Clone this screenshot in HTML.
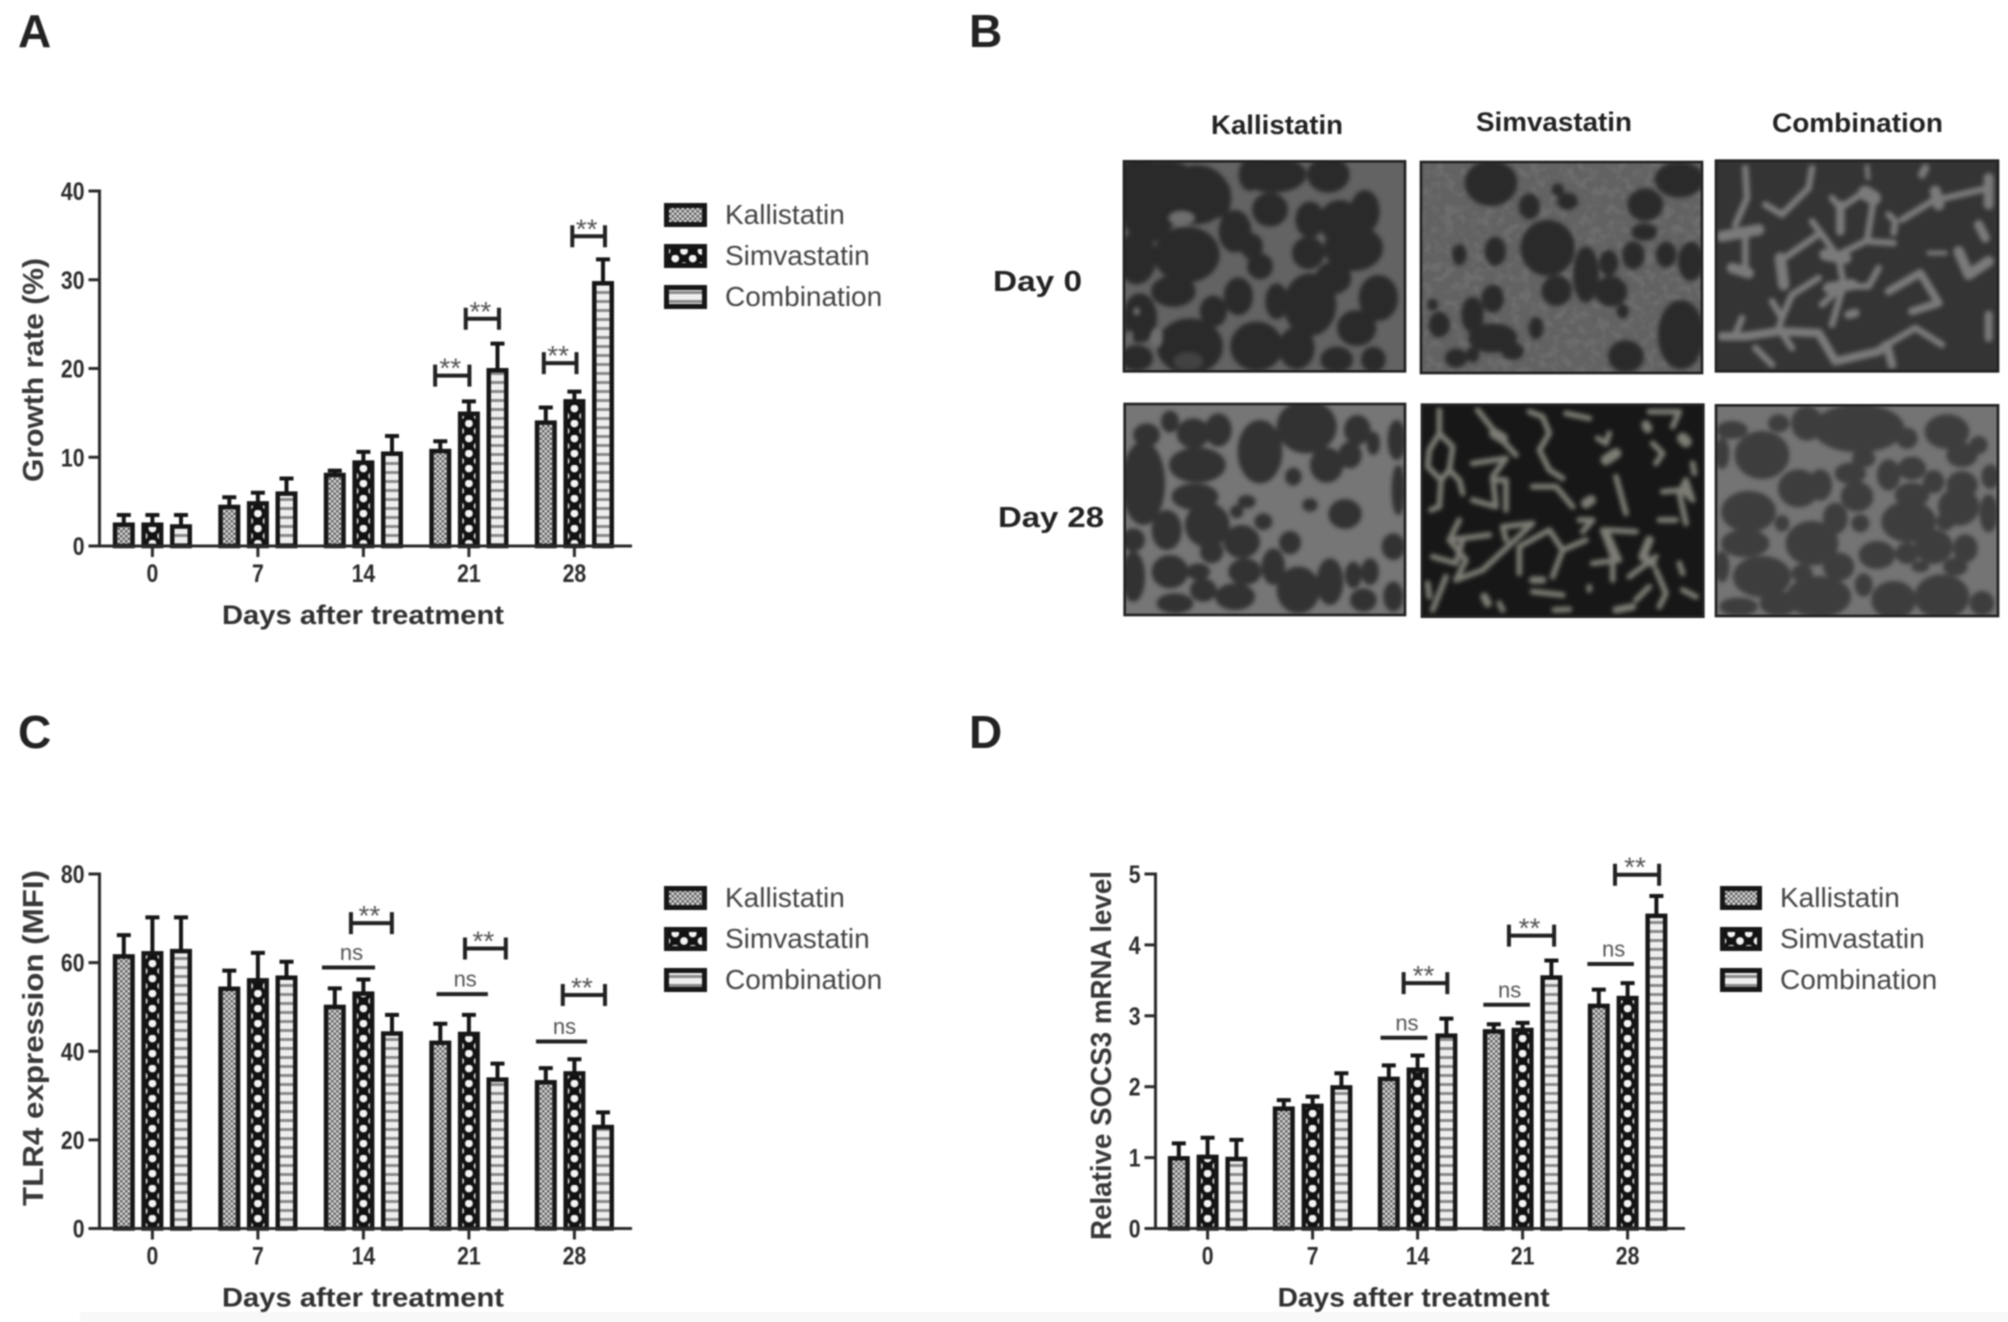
<!DOCTYPE html>
<html lang="en">
<head>
<meta charset="utf-8">
<title>Kallistatin, Simvastatin and Combination treatment results</title>
<style>
html,body{margin:0;padding:0;background:#fff;}
body{width:2008px;height:1322px;overflow:hidden;}
#figure{display:block;width:2008px;height:1322px;filter:blur(0.8px);font-family:"Liberation Sans",Arial,sans-serif;}
.panel-letter{font-size:46px;font-weight:bold;fill:#222;}
.tick{font-size:25px;font-weight:bold;fill:#2c2c2c;}
.axis-title{font-size:27px;font-weight:bold;fill:#303030;}
.axis-title-y{font-size:29px;font-weight:bold;fill:#383838;}
.legend-text{font-size:28px;fill:#444;}
.sig{font-size:28px;fill:#555;}
.ns{font-size:22px;fill:#555;}
.img-label{font-size:27px;font-weight:bold;fill:#222;}
.row-label{font-size:29px;font-weight:bold;fill:#222;}
</style>
</head>
<body>
<svg id="figure" xmlns="http://www.w3.org/2000/svg" width="2008" height="1322" viewBox="0 0 2008 1322">
<defs>
  <pattern id="hatch-kallistatin" patternUnits="userSpaceOnUse" width="5" height="5">
    <rect width="5" height="5" fill="#dcdcdc"/>
    <rect width="2.5" height="2.5" fill="#5f5f5f"/>
    <rect x="2.5" y="2.5" width="2.5" height="2.5" fill="#5f5f5f"/>
  </pattern>
  <pattern id="hatch-simvastatin" patternUnits="userSpaceOnUse" width="17.5" height="15">
    <rect width="17.5" height="15" fill="#111"/>
    <circle cx="8.75" cy="3.5" r="3.9" fill="#f4f4f4"/>
    <circle cx="0" cy="11" r="3.9" fill="#f4f4f4"/>
    <circle cx="17.5" cy="11" r="3.9" fill="#f4f4f4"/>
  </pattern>
  <pattern id="hatch-combination" patternUnits="userSpaceOnUse" width="9" height="9">
    <rect width="9" height="9" fill="#efefef"/>
    <rect y="3" width="9" height="3" fill="#8a8a8a"/>
  </pattern>
  <filter id="soft" x="-5%" y="-5%" width="110%" height="110%"><feGaussianBlur stdDeviation="6"/></filter>
  <filter id="mottle" x="0" y="0" width="100%" height="100%"><feTurbulence type="fractalNoise" baseFrequency="0.035" numOctaves="2" seed="3"/><feColorMatrix type="matrix" values="0 0 0 0 0.15  0 0 0 0 0.15  0 0 0 0 0.15  0 0 0 -4 2.2"/></filter>
  <clipPath id="clip-1"><rect x="12" y="10" width="843" height="630"/></clipPath>
  <clipPath id="clip-2"><rect x="15" y="12" width="843" height="633"/></clipPath>
  <clipPath id="clip-3"><rect x="12" y="8" width="846" height="632"/></clipPath>
  <clipPath id="clip-4"><rect x="14" y="12" width="841" height="633"/></clipPath>
  <clipPath id="clip-5"><rect x="18" y="14" width="844" height="636"/></clipPath>
  <clipPath id="clip-6"><rect x="12" y="16" width="846" height="632"/></clipPath>
</defs>
<rect width="2008" height="1322" fill="#fff"/>
<rect x="80" y="1312" width="1928" height="10" fill="#f8f8f8"/>

<text class="panel-letter" x="18" y="47">A</text>
<text class="panel-letter" x="969" y="47">B</text>
<text class="panel-letter" x="18" y="748">C</text>
<text class="panel-letter" x="969" y="748">D</text>

<!-- Panel B -->
<g>
<text class="img-label" x="1211" y="134" textLength="132" lengthAdjust="spacingAndGlyphs">Kallistatin</text>
<text class="img-label" x="1476" y="131" textLength="156" lengthAdjust="spacingAndGlyphs">Simvastatin</text>
<text class="img-label" x="1772" y="132" textLength="171" lengthAdjust="spacingAndGlyphs">Combination</text>
<text class="row-label" x="993" y="291" textLength="89" lengthAdjust="spacingAndGlyphs">Day 0</text>
<text class="row-label" x="998" y="527" textLength="106" lengthAdjust="spacingAndGlyphs">Day 28</text>

<g transform="translate(1120,158) scale(0.33333)">
 <g clip-path="url(#clip-1)">
  <rect x="0" y="0" width="870" height="660" fill="#636363"/>
  <g filter="url(#soft)" fill="#2b2b2b" stroke="#2b2b2b" stroke-width="18">
   <ellipse cx="85" cy="130" rx="80" ry="115"/><ellipse cx="60" cy="60" rx="60" ry="55"/><ellipse cx="140" cy="45" rx="60" ry="30"/><ellipse cx="230" cy="110" rx="90" ry="80"/><ellipse cx="200" cy="290" rx="90" ry="75"/><ellipse cx="160" cy="400" rx="58" ry="38"/><ellipse cx="60" cy="480" rx="42" ry="65"/><ellipse cx="210" cy="565" rx="90" ry="75"/><ellipse cx="280" cy="460" rx="32" ry="38"/><ellipse cx="345" cy="220" rx="40" ry="55"/><ellipse cx="355" cy="415" rx="35" ry="48"/><ellipse cx="395" cy="265" rx="25" ry="30"/><ellipse cx="420" cy="325" rx="30" ry="30"/><ellipse cx="450" cy="155" rx="45" ry="42"/><ellipse cx="460" cy="50" rx="90" ry="45"/><ellipse cx="625" cy="50" rx="55" ry="45"/><ellipse cx="735" cy="160" rx="35" ry="55"/><ellipse cx="570" cy="185" rx="35" ry="45"/><ellipse cx="660" cy="190" rx="55" ry="55"/><ellipse cx="700" cy="270" rx="80" ry="60"/><ellipse cx="565" cy="285" rx="40" ry="40"/><ellipse cx="640" cy="360" rx="45" ry="40"/><ellipse cx="775" cy="420" rx="50" ry="60"/><ellipse cx="570" cy="440" rx="70" ry="85"/><ellipse cx="470" cy="430" rx="25" ry="45"/><ellipse cx="710" cy="510" rx="50" ry="45"/><ellipse cx="410" cy="565" rx="70" ry="65"/><ellipse cx="530" cy="570" rx="45" ry="55"/><ellipse cx="650" cy="605" rx="40" ry="30"/><ellipse cx="760" cy="605" rx="28" ry="30"/><ellipse cx="300" cy="120" rx="25" ry="50"/><ellipse cx="390" cy="50" rx="25" ry="40"/><ellipse cx="50" cy="300" rx="50" ry="70"/><ellipse cx="50" cy="600" rx="40" ry="30"/>
  </g>
  <g filter="url(#soft)" fill="#6e6e6e"><ellipse cx="185" cy="180" rx="40" ry="22"/><ellipse cx="205" cy="610" rx="45" ry="28" opacity="0.35"/><ellipse cx="110" cy="540" rx="18" ry="30"/><ellipse cx="50" cy="460" rx="10" ry="12"/><ellipse cx="30" cy="535" rx="9" ry="18"/></g>
 </g>
 <rect x="12" y="10" width="843" height="630" fill="none" stroke="#222" stroke-width="8"/>
</g>

<g transform="translate(1416,158) scale(0.33333)">
 <g clip-path="url(#clip-2)">
  <rect x="0" y="0" width="870" height="660" fill="#626262"/>
  <rect x="0" y="0" width="870" height="660" filter="url(#mottle)"/>
  <g filter="url(#soft)" fill="#2a2a2a" stroke="#2a2a2a" stroke-width="8">
   <ellipse cx="225" cy="75" rx="75" ry="65"/><ellipse cx="340" cy="145" rx="28" ry="35"/><ellipse cx="425" cy="95" rx="15" ry="15"/><ellipse cx="455" cy="130" rx="28" ry="22"/><ellipse cx="688" cy="140" rx="50" ry="45"/><ellipse cx="685" cy="222" rx="35" ry="22"/><ellipse cx="790" cy="65" rx="70" ry="50"/><ellipse cx="395" cy="270" rx="78" ry="80"/><ellipse cx="238" cy="280" rx="28" ry="40"/><ellipse cx="130" cy="290" rx="18" ry="28"/><ellipse cx="510" cy="350" rx="35" ry="80"/><ellipse cx="578" cy="315" rx="25" ry="35"/><ellipse cx="652" cy="292" rx="30" ry="38"/><ellipse cx="750" cy="290" rx="27" ry="35"/><ellipse cx="825" cy="310" rx="35" ry="55"/><ellipse cx="422" cy="398" rx="42" ry="42"/><ellipse cx="585" cy="400" rx="45" ry="42"/><ellipse cx="230" cy="422" rx="30" ry="38"/><ellipse cx="170" cy="470" rx="30" ry="50"/><ellipse cx="70" cy="500" rx="28" ry="35"/><ellipse cx="795" cy="530" rx="65" ry="100"/><ellipse cx="630" cy="595" rx="50" ry="45"/><ellipse cx="230" cy="540" rx="70" ry="40"/><ellipse cx="120" cy="600" rx="30" ry="25"/><ellipse cx="360" cy="510" rx="18" ry="30"/><ellipse cx="620" cy="460" rx="15" ry="18"/><ellipse cx="290" cy="580" rx="30" ry="22"/><ellipse cx="170" cy="590" rx="16" ry="20"/><ellipse cx="50" cy="440" rx="12" ry="14"/>
  </g>
 </g>
 <rect x="15" y="12" width="843" height="633" fill="none" stroke="#222" stroke-width="8"/>
</g>

<g transform="translate(1712,158) scale(0.33333)">
 <g clip-path="url(#clip-3)">
  <rect x="0" y="0" width="870" height="660" fill="#343434"/>
  <g filter="url(#soft)" fill="none" stroke="#7a7a7a" stroke-width="20" stroke-linejoin="round" stroke-linecap="round">
   <path stroke-width="34" d="M30 235 L140 215"/><path d="M100 30 L105 120 L70 200"/><path d="M100 230 L100 350"/><path stroke-width="32" d="M60 330 L110 345"/><path d="M160 140 L210 170 L290 90 L300 30"/><path stroke-width="34" d="M205 300 L215 380"/><path d="M325 225 L225 295"/><path d="M300 190 L330 230 L380 300 L395 380 L360 500"/><path stroke-width="26" d="M385 140 L385 220"/><path d="M360 120 L385 150 L460 100 L485 120 L465 250 L545 255"/><path stroke-width="44" d="M460 105 L485 120"/><path d="M460 250 L380 290"/><path stroke-width="36" d="M340 290 L400 300"/><path stroke-width="34" d="M350 390 L420 380"/><path d="M420 385 L470 385 L500 330"/><path d="M395 380 L330 440"/><path d="M320 360 L240 410 L210 480 L200 510 L240 570"/><path d="M180 430 L210 480"/><path stroke-width="26" d="M30 535 L100 535 L200 520 L320 525 L370 610 L500 580 L525 560 L540 620"/><path d="M90 480 L70 530"/><path d="M130 570 L180 620"/><path d="M525 560 L610 510 L690 560"/><path stroke-width="24" d="M600 460 L680 435 L625 345 L530 400"/><path stroke-width="26" d="M430 465 L410 470"/><path d="M530 170 L550 190 L545 225"/><path d="M570 185 L660 130 L700 120 L830 90"/><path stroke-width="34" d="M670 100 L680 140"/><path stroke-width="30" d="M830 60 L830 140"/><path stroke-width="28" d="M800 200 L820 240"/><path stroke-width="32" d="M740 280 L770 350 L830 310"/><path stroke-width="24" d="M830 470 L830 540"/><path stroke-width="24" d="M640 30 L630 50"/><path stroke-width="14" d="M465 25 L468 60"/><path stroke-width="14" d="M650 285 L700 285"/>
  </g>
 </g>
 <rect x="12" y="8" width="846" height="632" fill="none" stroke="#222" stroke-width="8"/>
</g>

<g transform="translate(1120,400) scale(0.33333)">
 <g clip-path="url(#clip-4)">
  <rect x="0" y="0" width="870" height="660" fill="#767676"/>
  <g filter="url(#soft)" fill="#323232" stroke="#323232" stroke-width="10">
   <ellipse cx="150" cy="65" rx="22" ry="28"/><ellipse cx="80" cy="105" rx="35" ry="30"/><ellipse cx="220" cy="100" rx="45" ry="40"/><ellipse cx="295" cy="90" rx="35" ry="45"/><ellipse cx="420" cy="155" rx="62" ry="90"/><ellipse cx="560" cy="80" rx="85" ry="75"/><ellipse cx="712" cy="90" rx="35" ry="40"/><ellipse cx="760" cy="130" rx="15" ry="30"/><ellipse cx="830" cy="120" rx="22" ry="55"/><ellipse cx="620" cy="195" rx="45" ry="48"/><ellipse cx="690" cy="165" rx="30" ry="35"/><ellipse cx="232" cy="195" rx="80" ry="48"/><ellipse cx="70" cy="250" rx="60" ry="120"/><ellipse cx="225" cy="290" rx="65" ry="35"/><ellipse cx="520" cy="230" rx="20" ry="22"/><ellipse cx="380" cy="305" rx="22" ry="15"/><ellipse cx="350" cy="335" rx="15" ry="15"/><ellipse cx="570" cy="315" rx="18" ry="15"/><ellipse cx="675" cy="342" rx="45" ry="40"/><ellipse cx="262" cy="375" rx="62" ry="62"/><ellipse cx="140" cy="390" rx="40" ry="55"/><ellipse cx="430" cy="365" rx="22" ry="20"/><ellipse cx="365" cy="425" rx="50" ry="45"/><ellipse cx="510" cy="428" rx="28" ry="30"/><ellipse cx="275" cy="455" rx="30" ry="30"/><ellipse cx="460" cy="500" rx="30" ry="50"/><ellipse cx="375" cy="515" rx="45" ry="35"/><ellipse cx="150" cy="515" rx="50" ry="45"/><ellipse cx="235" cy="515" rx="30" ry="20"/><ellipse cx="250" cy="570" rx="35" ry="30"/><ellipse cx="630" cy="545" rx="35" ry="65"/><ellipse cx="700" cy="525" rx="20" ry="35"/><ellipse cx="750" cy="515" rx="22" ry="35"/><ellipse cx="535" cy="570" rx="60" ry="65"/><ellipse cx="345" cy="590" rx="55" ry="35"/><ellipse cx="730" cy="600" rx="35" ry="30"/><ellipse cx="165" cy="610" rx="50" ry="25"/><ellipse cx="40" cy="530" rx="30" ry="70"/><ellipse cx="40" cy="420" rx="30" ry="30"/><ellipse cx="820" cy="440" rx="30" ry="35"/><ellipse cx="835" cy="270" rx="15" ry="70"/><ellipse cx="820" cy="590" rx="25" ry="40"/>
  </g>
 </g>
 <rect x="14" y="12" width="841" height="633" fill="none" stroke="#222" stroke-width="8"/>
</g>

<g transform="translate(1416,400) scale(0.33333)">
 <g clip-path="url(#clip-5)">
  <rect x="0" y="0" width="870" height="660" fill="#171717"/>
  <g filter="url(#soft)" fill="none" stroke="#7d7d75" stroke-width="17" stroke-linejoin="round" stroke-linecap="round">
   <path d="M70 30 L70 100 L40 150 L35 200 L75 240 L70 320 L45 330"/><path d="M70 100 L110 140 L100 210 L75 240"/><path d="M100 210 L130 240 L140 280"/><path d="M185 30 L240 100 L300 165"/><path stroke-width="32" d="M235 100 L260 115"/><path d="M170 190 L270 175 L230 230 L240 320 L170 300"/><path d="M230 240 L270 240 L270 330"/><path d="M340 35 L380 50 L400 100 L370 150 L400 210 L440 235"/><path d="M350 260 L420 260 L470 320"/><path stroke-width="30" d="M525 300 L510 310"/><path d="M545 115 L570 130 L580 100"/><path stroke-width="32" d="M570 180 L600 160"/><path d="M600 230 L630 340"/><path d="M450 40 L520 55"/><path d="M710 130 L740 160 L720 190"/><path stroke-width="28" d="M690 75 L695 85"/><path stroke-width="34" d="M800 115 L810 125"/><path d="M700 35 L790 35 L770 80"/><path d="M740 275 L800 270 L830 300 L810 240 L790 280 L810 370"/><path d="M730 360 L780 360"/><path d="M490 360 L530 360 L500 395"/><path d="M130 360 L100 420 L150 480 L120 540 L200 510 L350 370 L260 380 L270 420"/><path d="M100 420 L220 405"/><path d="M50 470 L120 490 L140 420"/><path d="M310 520 L310 440 L400 390 L440 450 L410 530"/><path d="M440 450 L510 420"/><path d="M560 390 L590 470 L590 540"/><path d="M530 490 L610 480 L570 390 L660 395"/><path d="M640 530 L720 470"/><path stroke-width="26" d="M700 420 L680 470 L710 490"/><path d="M720 510 L750 580 L730 620"/><path d="M660 600 L700 560"/><path d="M790 490 L800 520"/><path d="M90 530 L50 630"/><path d="M35 550 L40 590"/><path stroke-width="22" d="M350 540 L380 540"/><path d="M350 575 L440 585"/><path stroke-width="24" d="M205 590 L215 610"/><path d="M250 610 L260 630"/><path d="M415 630 L460 628"/><path stroke-width="22" d="M600 630 L650 620"/><path d="M520 560 L520 570"/><path d="M800 570 L840 590"/><path d="M830 190 L835 220"/>
  </g>
 </g>
 <rect x="18" y="14" width="844" height="636" fill="none" stroke="#222" stroke-width="8"/>
</g>

<g transform="translate(1712,400) scale(0.33333)">
 <g clip-path="url(#clip-6)">
  <rect x="0" y="0" width="870" height="660" fill="#747474"/>
  <g filter="url(#soft)" fill="#3c3c3c" stroke="#3c3c3c" stroke-width="14">
   <ellipse cx="150" cy="165" rx="75" ry="65"/><ellipse cx="60" cy="90" rx="40" ry="20"/><ellipse cx="200" cy="70" rx="25" ry="20"/><ellipse cx="285" cy="70" rx="40" ry="45"/><ellipse cx="440" cy="85" rx="130" ry="65"/><ellipse cx="585" cy="115" rx="25" ry="25"/><ellipse cx="705" cy="95" rx="60" ry="45"/><ellipse cx="750" cy="165" rx="40" ry="30"/><ellipse cx="800" cy="135" rx="20" ry="20"/><ellipse cx="455" cy="175" rx="28" ry="20"/><ellipse cx="415" cy="220" rx="40" ry="25"/><ellipse cx="530" cy="225" rx="28" ry="40"/><ellipse cx="600" cy="205" rx="35" ry="28"/><ellipse cx="665" cy="245" rx="25" ry="28"/><ellipse cx="750" cy="255" rx="40" ry="35"/><ellipse cx="260" cy="265" rx="55" ry="50"/><ellipse cx="325" cy="255" rx="28" ry="40"/><ellipse cx="435" cy="290" rx="42" ry="38"/><ellipse cx="600" cy="285" rx="45" ry="30"/><ellipse cx="740" cy="320" rx="55" ry="50"/><ellipse cx="110" cy="335" rx="75" ry="55"/><ellipse cx="590" cy="365" rx="75" ry="55"/><ellipse cx="830" cy="340" rx="20" ry="50"/><ellipse cx="210" cy="370" rx="15" ry="18"/><ellipse cx="370" cy="355" rx="30" ry="40"/><ellipse cx="445" cy="370" rx="20" ry="20"/><ellipse cx="700" cy="365" rx="20" ry="20"/><ellipse cx="100" cy="430" rx="65" ry="35"/><ellipse cx="300" cy="430" rx="72" ry="60"/><ellipse cx="665" cy="440" rx="50" ry="45"/><ellipse cx="760" cy="445" rx="30" ry="35"/><ellipse cx="495" cy="465" rx="48" ry="35"/><ellipse cx="585" cy="460" rx="28" ry="25"/><ellipse cx="625" cy="500" rx="20" ry="10"/><ellipse cx="730" cy="500" rx="30" ry="20"/><ellipse cx="150" cy="530" rx="80" ry="55"/><ellipse cx="380" cy="500" rx="40" ry="35"/><ellipse cx="320" cy="590" rx="90" ry="55"/><ellipse cx="455" cy="555" rx="20" ry="28"/><ellipse cx="545" cy="600" rx="60" ry="50"/><ellipse cx="690" cy="590" rx="75" ry="60"/><ellipse cx="80" cy="620" rx="50" ry="20"/><ellipse cx="810" cy="610" rx="30" ry="30"/><ellipse cx="30" cy="160" rx="15" ry="40"/><ellipse cx="835" cy="230" rx="20" ry="30"/><ellipse cx="270" cy="520" rx="25" ry="20"/><ellipse cx="200" cy="610" rx="50" ry="30"/><ellipse cx="30" cy="500" rx="15" ry="40"/>
  </g>
 </g>
 <rect x="12" y="16" width="846" height="632" fill="none" stroke="#222" stroke-width="8"/>
</g>
</g>
</svg>

<script>
// Shared categories and series names
const days = ['0', '7', '14', '21', '28'];
const seriesNames = ['Kallistatin', 'Simvastatin', 'Combination'];

// Panel A values
const growthTicks = [0, 10, 20, 30, 40];
const growthKallistatin = [2.4, 4.4, 8.0, 10.7, 13.9];
const growthSimvastatin = [2.4, 4.8, 9.4, 14.9, 16.3];
const growthCombination = [2.2, 5.9, 10.4, 19.8, 29.6];
const growthKallistatinUpper = [3.5, 5.5, 8.5, 11.8, 15.6];
const growthSimvastatinUpper = [3.5, 6.0, 10.6, 16.3, 17.4];
const growthCombinationUpper = [3.5, 7.6, 12.4, 22.8, 32.3];
const growthBracketStart = [2.68, 2.97, 3.71, 3.98];
const growthBracketEnd = [3.005, 3.285, 4.02, 4.29];
const growthBracketLevel = [19.2, 25.6, 20.6, 34.9];

// Panel C values
const tlr4Ticks = [0, 20, 40, 60, 80];
const tlr4Kallistatin = [61.4, 54.1, 50.0, 41.9, 33.0];
const tlr4Simvastatin = [62.1, 56.0, 53.0, 43.9, 35.0];
const tlr4Combination = [62.6, 56.6, 44.0, 33.6, 22.9];
const tlr4KallistatinUpper = [66.2, 58.2, 54.2, 46.2, 36.2];
const tlr4SimvastatinUpper = [70.2, 62.2, 56.2, 48.2, 38.2];
const tlr4CombinationUpper = [70.2, 60.2, 48.2, 37.2, 26.2];
const tlr4BracketStart = [1.882, 2.963, 3.89];
const tlr4BracketEnd = [2.27, 3.35, 4.29];
const tlr4BracketLevel = [68.9, 63.2, 52.7];
const tlr4NsStart = [1.607, 2.693, 3.636];
const tlr4NsEnd = [2.11, 3.18, 4.12];
const tlr4NsLevel = [58.9, 52.9, 42.2];

// Panel D values
const socs3Ticks = [0, 1, 2, 3, 4, 5];
const socs3Kallistatin = [0.99, 1.69, 2.11, 2.78, 3.14];
const socs3Simvastatin = [1.01, 1.73, 2.24, 2.8, 3.25];
const socs3Combination = [0.98, 1.99, 2.72, 3.54, 4.41];
const socs3KallistatinUpper = [1.2, 1.81, 2.3, 2.88, 3.37];
const socs3SimvastatinUpper = [1.28, 1.86, 2.44, 2.9, 3.46];
const socs3CombinationUpper = [1.25, 2.19, 2.96, 3.78, 4.69];
const socs3BracketStart = [1.867, 2.87, 3.88];
const socs3BracketEnd = [2.283, 3.30, 4.30];
const socs3BracketLevel = [3.46, 4.13, 4.99];
const socs3NsStart = [1.647, 2.626, 3.617];
const socs3NsEnd = [2.093, 3.07, 4.06];
const socs3NsLevel = [2.69, 3.155, 3.73];

const SVG_NS = 'http://www.w3.org/2000/svg';
const root = document.getElementById('figure');
const hatchIds = ['hatch-kallistatin', 'hatch-simvastatin', 'hatch-combination'];

function make(parent, tag, attrs, text) {
  const el = document.createElementNS(SVG_NS, tag);
  for (const k in attrs) el.setAttribute(k, attrs[k]);
  if (text !== undefined) el.textContent = text;
  parent.appendChild(el);
  return el;
}

function drawChart(cfg) {
  const g = make(root, 'g', {});
  
  

  const yScale = v => cfg.baseY - (v / cfg.yMax) * (cfg.baseY - cfg.topY);
  const xScale = i => cfg.firstX + cfg.step * i;
  const offsets = [-1, 0, 1];
  const ink = '#161616';

  cfg.series.forEach((vals, s) => {
    vals.forEach((v, i) => {
      const cx = xScale(i) + offsets[s] * cfg.barGap;
      const err = make(g, 'path', {
        d: 'M' + cx + ' ' + yScale(v) + ' V' + yScale(cfg.upper[s][i]) + ' M' + (cx - 7) + ' ' + yScale(cfg.upper[s][i]) + ' H' + (cx + 7),
        fill: 'none', stroke: ink, 'stroke-width': 4
      });
      
      
      const bar = make(g, 'rect', {
        transform: 'translate(' + (cx - 8.75) + ',0)',
        x: 0, y: yScale(v), width: 17.5, height: cfg.baseY - yScale(v),
        fill: 'url(#' + hatchIds[s] + ')', stroke: ink, 'stroke-width': 4.5
      });
      
      
    });
  });

  const yAxis = make(g, 'line', { x1: cfg.axisX, x2: cfg.axisX, y1: cfg.topY - 1.5, y2: cfg.baseY + 1.5, stroke: '#2a2a2a', 'stroke-width': 3 });
  
  
  const xAxis = make(g, 'line', { x1: cfg.axisX - 11, x2: cfg.axisEnd, y1: cfg.baseY, y2: cfg.baseY, stroke: '#2a2a2a', 'stroke-width': 3 });
  
  

  cfg.ticks.forEach(t => {
    const mark = make(g, 'line', { x1: cfg.axisX - 11, x2: cfg.axisX, y1: yScale(t), y2: yScale(t), stroke: '#2a2a2a', 'stroke-width': 3 });
    
    
    const lab = make(g, 'text', { class: 'tick', x: cfg.axisX - 15, y: yScale(t) + 9, 'text-anchor': 'end', textLength: String(t).length * 11.8, lengthAdjust: 'spacingAndGlyphs' }, String(t));
    
    
  });

  days.forEach((d, i) => {
    const mark = make(g, 'line', { x1: xScale(i), x2: xScale(i), y1: cfg.baseY, y2: cfg.baseY + 11, stroke: '#2a2a2a', 'stroke-width': 3 });
    
    
    const lab = make(g, 'text', { class: 'tick', x: xScale(i), y: cfg.baseY + 36, 'text-anchor': 'middle', textLength: d.length * 11.8, lengthAdjust: 'spacingAndGlyphs' }, d);
    
    
  });

  const xTitle = make(g, 'text', { class: 'axis-title', x: cfg.xTitleX, y: cfg.baseY + 78, textLength: cfg.xTitleLen, lengthAdjust: 'spacingAndGlyphs' }, 'Days after treatment');
  
  
  const yTitle = make(g, 'text', { class: 'axis-title-y', x: cfg.yTitleX, y: cfg.yTitleY, transform: 'rotate(-90 ' + cfg.yTitleX + ' ' + cfg.yTitleY + ')', textLength: cfg.yTitleLen, lengthAdjust: 'spacingAndGlyphs' }, cfg.yTitle);
  
  

  cfg.bracketLevel.forEach((lv, k) => {
    const xa = xScale(cfg.bracketStart[k]);
    const xb = xScale(cfg.bracketEnd[k]);
    const y = yScale(lv);
    const br = make(g, 'path', {
      d: 'M' + xa + ' ' + (y - 11) + ' V' + (y + 11) + ' M' + xa + ' ' + y + ' H' + xb + ' M' + xb + ' ' + (y - 11) + ' V' + (y + 11),
      fill: 'none', stroke: '#222', 'stroke-width': 4
    });
    
    
    const st = make(g, 'text', { class: 'sig', x: (xa + xb) / 2 - 2, y: y + 2, 'text-anchor': 'middle' }, '**');
    
    
  });

  (cfg.nsLevel || []).forEach((lv, k) => {
    const xa = xScale(cfg.nsStart[k]);
    const xb = xScale(cfg.nsEnd[k]);
    const y = yScale(lv);
    const ln = make(g, 'line', { x1: xa, x2: xb, y1: y, y2: y, stroke: '#222', 'stroke-width': 4 });
    
    
    const tx = make(g, 'text', { class: 'ns', x: (xa + xb) / 2 + 3, y: y - 7.5, 'text-anchor': 'middle' }, 'ns');
    
    
  });

  const legend = make(g, 'g', {});
  
  
  seriesNames.forEach((n, s) => {
    const top = cfg.legendY + s * cfg.legendStep;
    const sw = make(legend, 'rect', {
      transform: 'translate(' + (cfg.legendX + 2.5) + ',0)',
      x: 0, y: top + 2.5, width: cfg.legendW - 5, height: 19,
      fill: 'url(#' + hatchIds[s] + ')', stroke: ink, 'stroke-width': 5
    });
    
    
    const lt = make(legend, 'text', { class: 'legend-text', x: cfg.legendTextX - 1, y: top + 21 }, n);
    
    
  });
}

drawChart({
  name: 'growth-rate-chart', firstX: 152.4, step: 105.5, barGap: 28.6,
  baseY: 546, topY: 191, yMax: 40, axisX: 99.5, axisEnd: 632,
  ticks: growthTicks,
  series: [growthKallistatin, growthSimvastatin, growthCombination],
  upper: [growthKallistatinUpper, growthSimvastatinUpper, growthCombinationUpper],
  bracketStart: growthBracketStart, bracketEnd: growthBracketEnd, bracketLevel: growthBracketLevel,
  xTitleX: 222, xTitleLen: 282, yTitle: 'Growth rate (%)', yTitleX: 43, yTitleY: 482, yTitleLen: 224,
  legendX: 664, legendW: 43, legendY: 203, legendStep: 41, legendTextX: 726
});

drawChart({
  name: 'tlr4-expression-chart', firstX: 152.4, step: 105.5, barGap: 28.6,
  baseY: 1228.5, topY: 874, yMax: 80, axisX: 99.5, axisEnd: 632,
  ticks: tlr4Ticks,
  series: [tlr4Kallistatin, tlr4Simvastatin, tlr4Combination],
  upper: [tlr4KallistatinUpper, tlr4SimvastatinUpper, tlr4CombinationUpper],
  bracketStart: tlr4BracketStart, bracketEnd: tlr4BracketEnd, bracketLevel: tlr4BracketLevel,
  nsStart: tlr4NsStart, nsEnd: tlr4NsEnd, nsLevel: tlr4NsLevel,
  xTitleX: 222, xTitleLen: 282, yTitle: 'TLR4 expression (MFI)', yTitleX: 43, yTitleY: 1206, yTitleLen: 336,
  legendX: 664, legendW: 43, legendY: 886, legendStep: 41, legendTextX: 726
});

drawChart({
  name: 'socs3-mrna-chart', firstX: 1207.6, step: 105, barGap: 28.8,
  baseY: 1228.5, topY: 874, yMax: 5, axisX: 1155.5, axisEnd: 1685,
  ticks: socs3Ticks,
  series: [socs3Kallistatin, socs3Simvastatin, socs3Combination],
  upper: [socs3KallistatinUpper, socs3SimvastatinUpper, socs3CombinationUpper],
  bracketStart: socs3BracketStart, bracketEnd: socs3BracketEnd, bracketLevel: socs3BracketLevel,
  nsStart: socs3NsStart, nsEnd: socs3NsEnd, nsLevel: socs3NsLevel,
  xTitleX: 1277.6, xTitleLen: 272, yTitle: 'Relative SOCS3 mRNA level', yTitleX: 1111, yTitleY: 1240, yTitleLen: 369,
  legendX: 1720, legendW: 42, legendY: 886, legendStep: 41, legendTextX: 1781
});
</script>
</body>
</html>
